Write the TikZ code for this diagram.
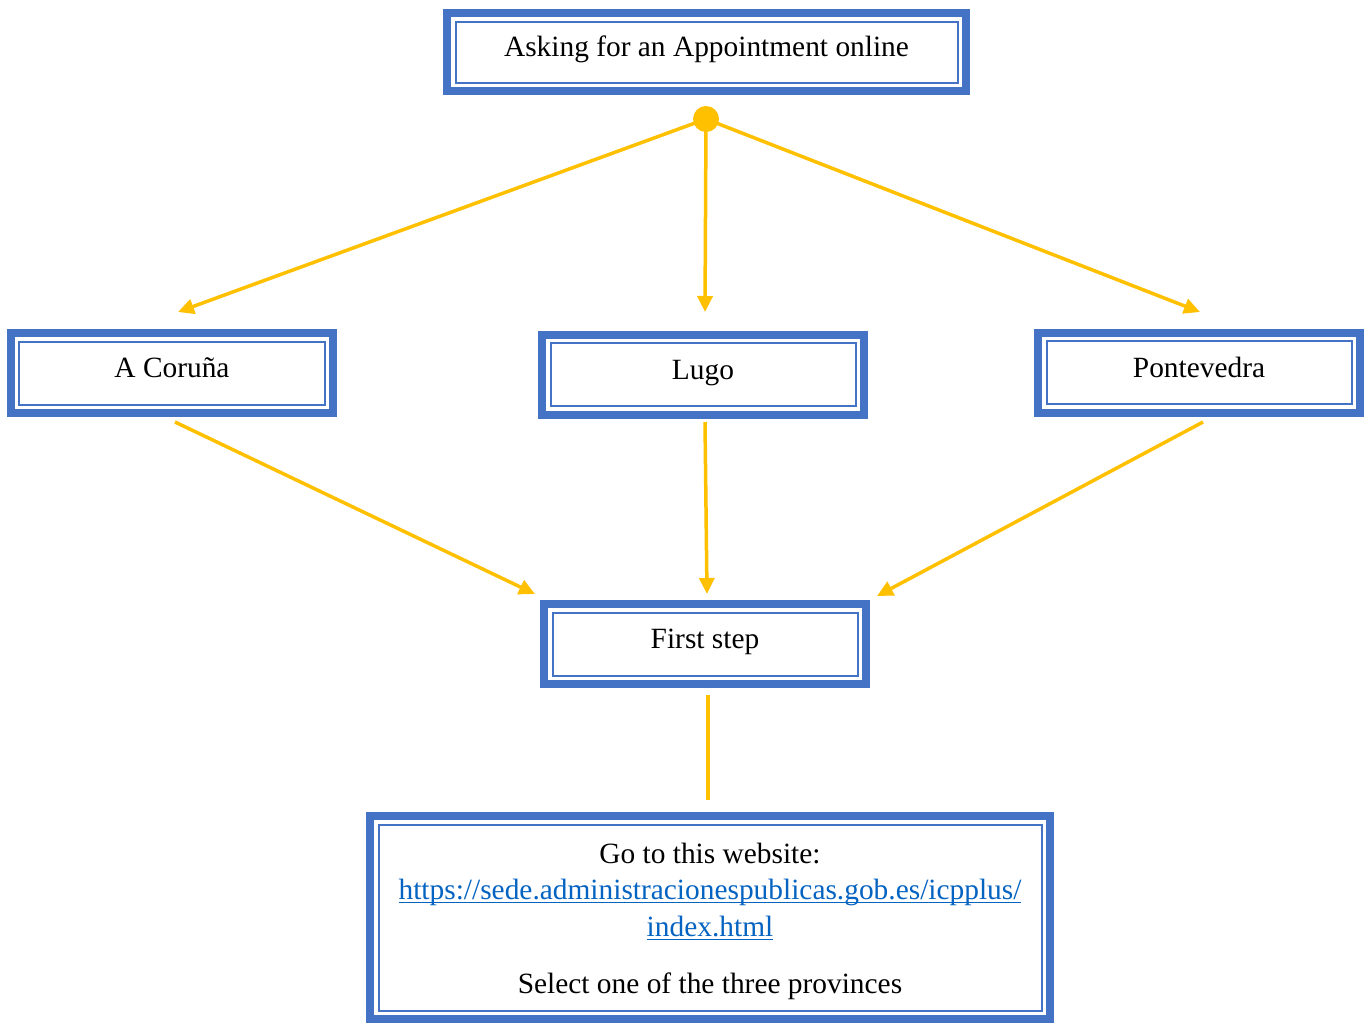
\documentclass[tikz,border=0pt]{standalone}
\usepackage{fontspec}
\setmainfont{Liberation Serif}
\usetikzlibrary{arrows.meta,calc}
\definecolor{boxblue}{HTML}{4472C4}
\definecolor{flowyellow}{HTML}{FFC000}
\definecolor{linkblue}{HTML}{0563C1}
\newsavebox\ulbox
\newcommand\linkul[1]{\sbox\ulbox{#1}\rlap{\usebox\ulbox}\rule[-3.5bp]{\wd\ulbox}{1.6bp}}
\begin{document}
\begin{tikzpicture}[x=1bp,y=-1bp,
  basebox/.style={draw=boxblue,line width=8bp,outer sep=0pt,fill=white,inner sep=0pt,
    font=\fontsize{29.5}{37}\selectfont,align=center},
  stepbox/.style={basebox,minimum width=322bp,minimum height=80bp,text height=1.2em,text depth=0.25em},
  flow/.style={draw=flowyellow,line width=3.5bp},
  flowarrow/.style={flow,-{Triangle[length=16bp,width=15bp]}},
  innerline/.style={draw=boxblue,line width=2bp},
  hubdot/.style={circle,fill=flowyellow,minimum size=26bp,inner sep=0pt}]
\fill[white] (0,0) rectangle (1369,1025);
\useasboundingbox (0,0) rectangle (1369,1025);

% boxes
\node[stepbox,minimum width=519bp,minimum height=78bp] (top) at (706.5,52) {Asking for an Appointment online};
\node[stepbox] (cor) at (172,373) {A Coruña};
\node[stepbox] (lugo) at (703,374.5) {Lugo};
\node[stepbox] (pont) at (1199,372.5) {Pontevedra};
\node[stepbox] (first) at (705,644) {First step};
\node[basebox,minimum width=680bp,minimum height=203bp] (web) at (710,917.5) {%
  \rule{0pt}{28bp}Go to this website:\\
  \textcolor{linkblue}{\linkul{https://sede.administracionespublicas.gob.es/icpplus/}}\\
  \textcolor{linkblue}{\linkul{index.html}}\\[20bp]
  Select one of the three provinces};

% inner lines of the double frames
\foreach \n in {top,cor,lugo,pont,first,web}
  \draw[innerline] ($(\n.north west)+(8.5bp,-8.5bp)$) rectangle ($(\n.south east)+(-8.5bp,8.5bp)$);

% hub
\node[hubdot] (hub) at (706,119) {};

% free ends
\coordinate (corIn) at (178,312);
\coordinate (lugoIn) at (705,312);
\coordinate (pontIn) at (1200,312);
\coordinate (corOut) at (175,422);
\coordinate (lugoOut) at (705,422);
\coordinate (pontOut) at (1203,422);
\coordinate (firstInL) at (535,594);
\coordinate (firstInM) at (707,594);
\coordinate (firstInR) at (877,596);
\coordinate (firstOut) at (708,695);
\coordinate (webIn) at (708,800);

\draw[flowarrow] (hub.center) -- (corIn);
\draw[flowarrow] (hub.center) -- (lugoIn);
\draw[flowarrow] (hub.center) -- (pontIn);
\draw[flowarrow] (corOut) -- (firstInL);
\draw[flowarrow] (lugoOut) -- (firstInM);
\draw[flowarrow] (pontOut) -- (firstInR);
\draw[flow] (firstOut) -- (webIn);
\end{tikzpicture}
\end{document}
